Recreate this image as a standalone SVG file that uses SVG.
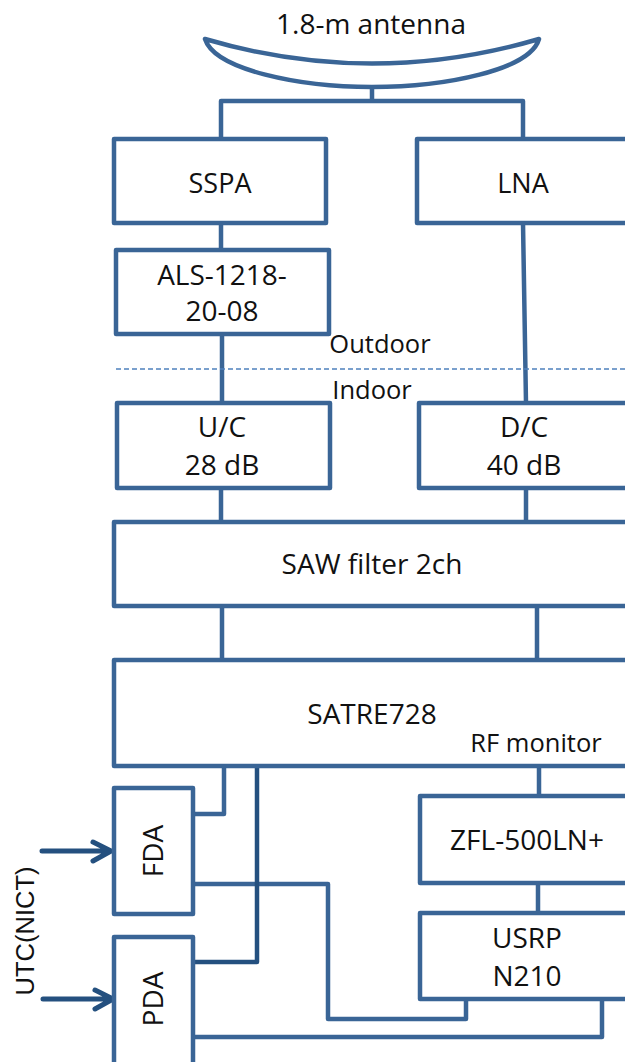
<svg xmlns="http://www.w3.org/2000/svg" width="625" height="1062" viewBox="0 0 625 1062">
<style>
.b{fill:#fff;stroke:#3a6596;stroke-width:4.5;stroke-linejoin:round}
.c{fill:none;stroke:#3a6596;stroke-width:4.5;stroke-linejoin:round}
.d{fill:none;stroke:#24507f;stroke-width:4.5;stroke-linejoin:round}
.a{fill:none;stroke:#24507f;stroke-width:5;stroke-linecap:round;stroke-linejoin:round}
text{font-family:"Open Sans","Noto Sans",sans-serif;font-size:28px;fill:#111;text-anchor:middle}
.s{font-size:25.5px}
.u{font-family:"Liberation Sans",Arial,sans-serif;font-size:25.5px}
</style>
<rect width="625" height="1062" fill="#fff"/>
<g id="connectors">
<path class="c" d="M372 87V101M221 139V101H523V139"/>
<path class="c" d="M221 223V250M222 334V403M523 223L526 403M221 488V522M526 488V522M222 606V660M537 606V660M539 766V796M538 883V913"/>
<path class="c" d="M224 766V814H193"/>
<path class="c" d="M193 884H328V1019H466V999"/>
<path class="c" d="M193 1037H602V999"/>
<path class="d" d="M257 766V962H193"/>
<path d="M116 369H625" fill="none" stroke="#4f81bd" stroke-width="1.5" stroke-dasharray="5 3"/>
<path class="a" d="M42 851H110M93 842L111 851L93 861"/>
<path class="a" d="M43 999H112M95 990L113 999L95 1009"/>
</g>
<g id="antenna"><path class="b" d="M205 39Q372 88 539 39C530 70 445 87 372 87C300 87 215 70 205 39Z"/><text x="371" y="34">1.8-m antenna</text></g>
<g id="sspa"><rect class="b" x="114" y="139" width="212" height="84"/><text x="220" y="193" style="font-size:27px">SSPA</text></g>
<g id="lna"><rect class="b" x="417" y="139" width="230" height="84"/><text x="523" y="193" style="font-size:27px">LNA</text></g>
<g id="als"><rect class="b" x="116" y="250" width="213" height="84"/><text x="222" y="285">ALS-1218-</text><text x="222" y="321">20-08</text></g>
<g id="uc"><rect class="b" x="117" y="403" width="213" height="85"/><text x="222" y="437">U/C</text><text x="222" y="475">28 dB</text></g>
<g id="dc"><rect class="b" x="419" y="403" width="230" height="85"/><text x="524" y="437">D/C</text><text x="524" y="475">40 dB</text></g>
<g id="saw"><rect class="b" x="114" y="522" width="530" height="84"/><text x="372" y="574">SAW filter 2ch</text></g>
<g id="satre"><rect class="b" x="114" y="660" width="530" height="106"/><text x="372" y="724">SATRE728</text></g>
<g id="fda"><rect class="b" x="114" y="788" width="79" height="126"/><text transform="translate(163 851) rotate(-90)">FDA</text></g>
<g id="pda"><rect class="b" x="114" y="937" width="79" height="140"/><text transform="translate(163 999) rotate(-90)">PDA</text></g>
<g id="zfl"><rect class="b" x="420" y="796" width="230" height="87"/><text x="527" y="850">ZFL-500LN+</text></g>
<g id="usrp"><rect class="b" x="420" y="913" width="230" height="86"/><text x="527" y="948">USRP</text><text x="527" y="986">N210</text></g>
<g id="labels">
<text class="s" x="380" y="353">Outdoor</text>
<text class="s" x="372" y="399">Indoor</text>
<text class="s" x="536" y="752">RF monitor</text>
<text class="u" transform="translate(34 931) rotate(-90)">UTC(NICT)</text>
</g>
</svg>
